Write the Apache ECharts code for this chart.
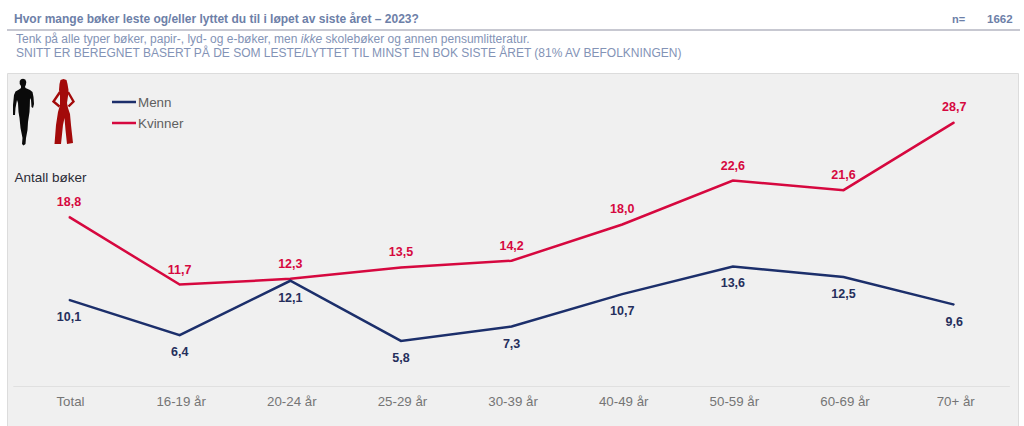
<!DOCTYPE html>
<html><head><meta charset="utf-8">
<style>html,body{margin:0;padding:0;background:#fff}#c{width:1024px;height:426px}</style>
<script src="https://cdn.jsdelivr.net/npm/echarts@6/dist/echarts.min.js"></script>
</head><body><div id="c"></div>
<script>
const categories = ['Total','16-19 år','20-24 år','25-29 år','30-39 år','40-49 år','50-59 år','60-69 år','70+ år'];
const menn = [10.1,6.4,12.1,5.8,7.3,10.7,13.6,12.5,9.6];
const kvinner = [18.8,11.7,12.3,13.5,14.2,18.0,22.6,21.6,28.7];
const titleText = 'Hvor mange bøker leste og/eller lyttet du til i løpet av siste året – 2023?';
const nLabel = 'n=';
const nValue = '1662';
const axisTitle = 'Antall bøker';
const FONT = '"Liberation Sans", Arial, sans-serif';
const BLUE = '#1c2f6b', RED = '#d6083f', HEAD = '#6d80a8', SUB = '#8393b6';
const fmt = p => p.value.toFixed(1).replace('.', ',');
const manShape = [[23,78.7],[25.3,79.5],[26.3,82],[25.8,85],[25,86.5],[25.5,88],[30,90],[32.5,92],[33.5,97],[34,104],[33,108],[31.5,107],[31,100],[30,98],[29.8,106],[29.5,112],[28,122],[27.5,130],[26,138],[25.5,144],[23.5,145.5],[22,144],[22.5,138],[20.5,128],[19.5,118],[18.5,112],[18,103],[17,100],[15.5,108],[15,115],[13,115],[13,105],[14,95],[15.5,91.5],[19,89.5],[21,88],[21,86],[19.7,84],[19.7,81],[21,79.3]];
const womanShape = [[63.5,79],[66.5,80],[67.5,84],[68.5,90],[68,96],[67,103],[68,108],[70,114],[71,125],[73,143],[67,144],[65.5,130],[64.5,118],[63,125],[61,144],[54.5,144],[56,125],[58,112],[60,105],[60,96],[59,90],[59.5,84],[60.5,80]];
const womanArmL = [[60,92],[53.5,101.5],[59.5,106.5]];
const womanArmR = [[68,92],[73.5,101.5],[68.5,106.5]];
const chart = echarts.init(document.getElementById('c'), null, {renderer:'svg'});
const seriesStyle = (color, labelColor, pos, dist) => ({
  type:'line',color,symbol:'circle',symbolSize:1,showSymbol:true,
  itemStyle:{color},
  lineStyle:{width:2.5,color,join:'miter'},
  label:{show:true,position:pos,distance:dist,formatter:fmt,fontFamily:FONT,fontSize:12.5,fontWeight:'bold',color:labelColor},
  labelLayout:{hideOverlap:false}
});
chart.setOption({
  animation:false,
  backgroundColor:'#ffffff',
  grid:{left:13.7,right:14.5,top:110,bottom:40},
  legend:{
    left:112,top:95,padding:0,orient:'vertical',icon:'rect',itemWidth:24,itemHeight:2.5,itemGap:7,
    textStyle:{fontFamily:FONT,fontSize:13.4,color:'#5f5f5f',padding:[0,0,0,-3],lineHeight:14},
    data:['Menn','Kvinner']
  },
  xAxis:{
    type:'category',data:categories,boundaryGap:true,
    axisLine:{lineStyle:{color:'#e0e0e0',width:1}},axisTick:{show:false},
    axisLabel:{fontFamily:FONT,fontSize:13.3,color:'#757575',margin:9,padding:[0,0,0,3]}
  },
  yAxis:{type:'value',min:1.07,max:30,show:false,splitLine:{show:false}},
  series:[
    Object.assign({name:'Menn',data:menn,z:3},seriesStyle(BLUE,'#252e5c','bottom',10)),
    Object.assign({name:'Kvinner',data:kvinner,z:2},seriesStyle(RED,RED,'top',8))
  ],
  graphic:[
    {type:'rect',z:-10,shape:{x:7.5,y:73.5,width:1011,height:360},style:{fill:'#f0f0f0',stroke:'#dcdcdc',lineWidth:1}},
    {type:'line',z:-5,shape:{x1:7,y1:30,x2:1020,y2:30},style:{stroke:'#b4b6c2',lineWidth:1.5}},
    {type:'text',x:14,y:13,style:{text:titleText,font:'bold 12px '+FONT,fill:HEAD}},
    {type:'text',x:952,y:13,style:{text:nLabel,font:'bold 11px '+FONT,fill:HEAD}},
    {type:'text',x:987,y:13,style:{text:nValue,font:'bold 11.5px '+FONT,fill:HEAD}},
    {type:'text',x:16,y:33,style:{rich:{n:{font:'12px '+FONT,fill:SUB},i:{font:'italic 12px '+FONT,fill:SUB}},
      text:'{n|Tenk på alle typer bøker, papir-, lyd- og e-bøker, men }{i|ikke}{n| skolebøker og annen pensumlitteratur.}',font:'12px '+FONT,fill:SUB}},
    {type:'text',x:16,y:47,style:{text:'SNITT ER BEREGNET BASERT PÅ DE SOM LESTE/LYTTET TIL MINST EN BOK SISTE ÅRET (81% AV BEFOLKNINGEN)',font:'12px '+FONT,fill:SUB}},
    {type:'text',x:14.5,y:170,style:{text:axisTitle,font:'13.5px '+FONT,fill:'#2a2a35'}},
    {type:'polygon',shape:{points:manShape},style:{fill:'#0a0a0a'}},
    {type:'polygon',shape:{points:womanShape},style:{fill:'#a30a0a'}},
    {type:'polyline',shape:{points:womanArmL},style:{stroke:'#a30a0a',fill:null,lineWidth:2.4}},
    {type:'polyline',shape:{points:womanArmR},style:{stroke:'#a30a0a',fill:null,lineWidth:2.4}}
  ]
});
</script></body></html>
